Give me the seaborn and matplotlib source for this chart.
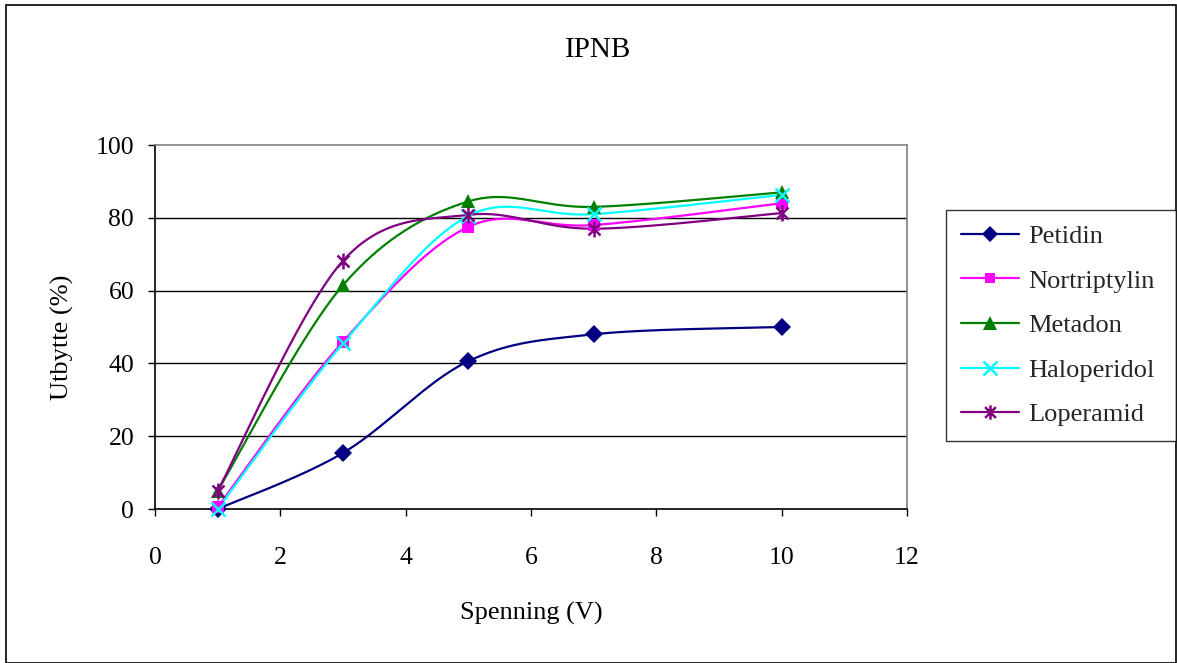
import numpy as np
import pandas as pd
import matplotlib
matplotlib.use("Agg")
import matplotlib.pyplot as plt
import seaborn as sns
from matplotlib.lines import Line2D
from matplotlib.path import Path
from matplotlib.patches import Rectangle

# Data: yield (%) versus voltage (V)
spenning = [1, 3, 5, 7, 10]
petidin = [0.0, 15.4, 40.6, 48.0, 50.0]
nortriptylin = [0.5, 46.0, 77.5, 78.0, 84.0]
metadon = [5.0, 61.5, 84.5, 83.0, 87.0]
haloperidol = [0.0, 45.5, 80.5, 81.0, 86.3]
loperamid = [5.0, 68.2, 80.8, 77.0, 81.3]

series_names = ["Petidin", "Nortriptylin", "Metadon", "Haloperidol", "Loperamid"]
series_values = [petidin, nortriptylin, metadon, haloperidol, loperamid]
colors = ["#000080", "#FF00FF", "#008000", "#00FFFF", "#800080"]

# asterisk marker: vertical bar plus an x
asterisk = Path(
    [(0, -1), (0, 1), (-0.75, -0.75), (0.75, 0.75), (-0.75, 0.75), (0.75, -0.75)],
    [Path.MOVETO, Path.LINETO, Path.MOVETO, Path.LINETO, Path.MOVETO, Path.LINETO],
)
markers = ["D", "s", "^", "x", asterisk]
msizes = [9, 8.5, 10.5, 10.5, 11.5]

W, H = 1177, 663
sns.set_theme(style="white")
plt.rcParams["font.family"] = ["Liberation Serif", "DejaVu Serif"]
FS = 18.5

fig = plt.figure(figsize=(W / 100, H / 100), dpi=100)
left, right, top, bottom = 155 / W, 907 / W, 1 - 145 / H, 1 - 509 / H
ax = fig.add_axes([left, bottom, right - left, top - bottom])

xlim = (0, 12)
ylim = (0, 100)
ax.set_xlim(*xlim)
ax.set_ylim(*ylim)

# pixel scales for smoothing in display space
sx = (right - left) * W / (xlim[1] - xlim[0])
sy = (top - bottom) * H / (ylim[1] - ylim[0])


def smooth(xs, ys, n=40):
    """Catmull-Rom style smoothing (Bezier with 1/6 tangents) in display units."""
    P = np.column_stack([np.asarray(xs, float) * sx, np.asarray(ys, float) * sy])
    out = [P[0]]
    for i in range(len(P) - 1):
        p0 = P[i - 1] if i > 0 else P[i]
        p1, p2 = P[i], P[i + 1]
        p3 = P[i + 2] if i + 2 < len(P) else P[i + 1]
        c1 = p1 + (p2 - p0) / 6
        c2 = p2 - (p3 - p1) / 6
        t = np.linspace(0, 1, n)[1:, None]
        seg = ((1 - t) ** 3) * p1 + 3 * ((1 - t) ** 2) * t * c1 + 3 * (1 - t) * t ** 2 * c2 + t ** 3 * p2
        out.extend(seg)
    out = np.array(out)
    return out[:, 0] / sx, out[:, 1] / sy


frames = []
for name, vals in zip(series_names, series_values):
    cx, cy = smooth(spenning, vals)
    frames.append(pd.DataFrame({"x": cx, "y": cy, "serie": name}))
curves = pd.concat(frames, ignore_index=True)

sns.lineplot(data=curves, x="x", y="y", hue="serie", palette=dict(zip(series_names, colors)),
             hue_order=series_names, sort=False, estimator=None, units="serie",
             linewidth=1.6, legend=False, ax=ax, zorder=3)

for name, vals, c, m, ms in zip(series_names, series_values, colors, markers, msizes):
    mew = 1.8 if (m == "x" or m is asterisk) else 0
    ax.plot(spenning, vals, linestyle="none", marker=m, markersize=ms, color=c,
            markeredgecolor=c, markeredgewidth=mew, zorder=4, clip_on=False)

# grid and frame
for yv in [20, 40, 60, 80]:
    ax.axhline(yv, color="black", linewidth=1.0, zorder=1)
ax.set_xticks(np.arange(0, 13, 2))
ax.set_yticks(np.arange(0, 101, 20))
ax.tick_params(axis="both", which="major", direction="out", length=5, width=1,
               color="black", labelsize=FS, labelcolor="black")
ax.tick_params(axis="x", bottom=True, pad=22)
ax.tick_params(axis="y", left=True, pad=10)
for s in ["left", "bottom"]:
    ax.spines[s].set_color("black")
    ax.spines[s].set_linewidth(1.2)
for s in ["top", "right"]:
    ax.spines[s].set_color("#808080")
    ax.spines[s].set_linewidth(1.2)
ax.grid(False)

ax.set_xlabel("Spenning (V)", fontsize=FS + 0.5, color="black", va="center")
ax.set_ylabel("Utbytte (%)", fontsize=FS + 0.5, color="black", va="center")
ax.xaxis.set_label_coords(0.5, (509 - 613) / 364)
ax.yaxis.set_label_coords((62 - 155) / 752, (509 - 337) / 364)
fig.text(0.508, 1 - 50 / H, "IPNB", ha="center", va="center", fontsize=21, color="black")

handles = [Line2D([0], [0], color=c, marker=m, markersize=ms * 0.9, linewidth=1.6,
                  markeredgewidth=(1.8 if (m == "x" or m is asterisk) else 0), markeredgecolor=c)
           for c, m, ms in zip(colors, markers, msizes)]
leg = fig.legend(handles, series_names, loc="upper left", mode="expand",
                 bbox_to_anchor=(946 / W, 1 - 210 / H, 230 / W, 0.0), frameon=True, fancybox=False,
                 edgecolor="black", fontsize=FS + 0.5, handlelength=2.2, labelspacing=0.8,
                 borderpad=0.55, handletextpad=0.35, borderaxespad=0)
leg.get_frame().set_linewidth(1.0)

# outer frame of the chart
fig.patches.append(Rectangle((6 / W, 0), 1 - 7 / W, 1 - 5 / H, transform=fig.transFigure,
                             fill=False, edgecolor="black", linewidth=1.2))

fig.savefig("out.png", dpi=100)
